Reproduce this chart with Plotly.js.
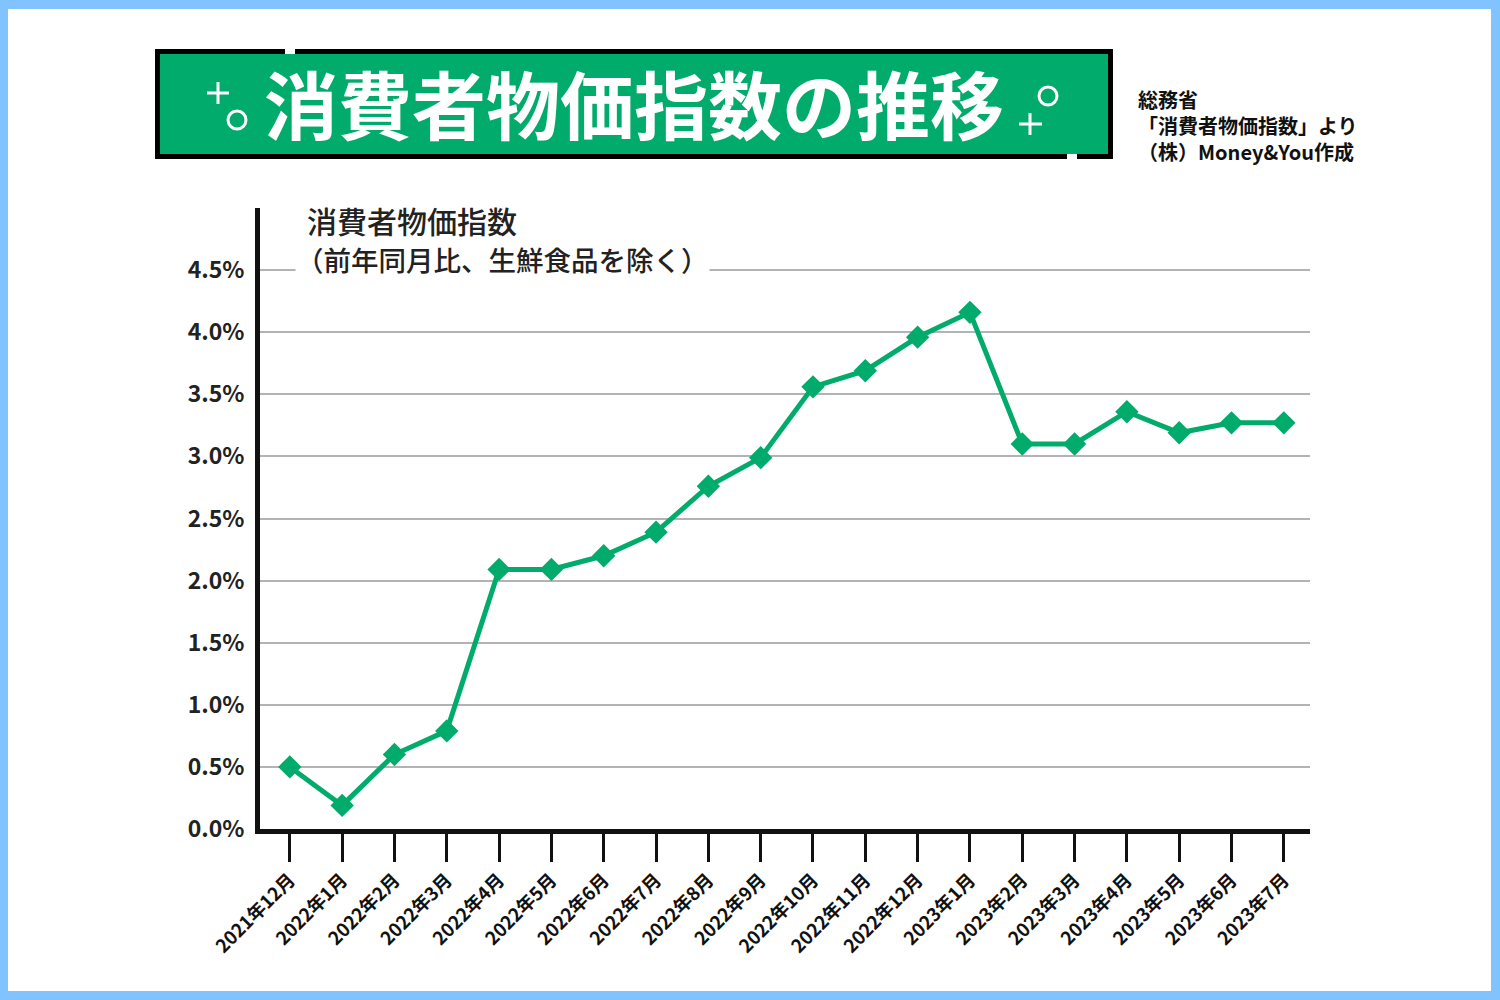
<!DOCTYPE html>
<html>
<head>
<meta charset="utf-8">
<script src="https://cdn.plot.ly/plotly-3.0.1.min.js"></script>
<style>
  html, body { margin: 0; padding: 0; background: #ffffff; }
  #chart { width: 1500px; height: 1000px; }
</style>
</head>
<body>
<div id="chart"></div>
<script>
// ---- data ----
const months = [
  "2021年12月", "2022年1月", "2022年2月", "2022年3月", "2022年4月",
  "2022年5月", "2022年6月", "2022年7月", "2022年8月", "2022年9月",
  "2022年10月", "2022年11月", "2022年12月", "2023年1月", "2023年2月",
  "2023年3月", "2023年4月", "2023年5月", "2023年6月", "2023年7月"
];
const cpiCore = [0.5, 0.19, 0.6, 0.79, 2.09, 2.09, 2.2, 2.39, 2.76, 2.99,
                 3.56, 3.69, 3.96, 4.16, 3.1, 3.1, 3.36, 3.19, 3.27, 3.27];
const yTickVals = [0, 0.5, 1.0, 1.5, 2.0, 2.5, 3.0, 3.5, 4.0, 4.5];
const yTickText = ["0.0%", "0.5%", "1.0%", "1.5%", "2.0%", "2.5%", "3.0%", "3.5%", "4.0%", "4.5%"];
const mainTitle = "消費者物価指数の推移";
const chartLabel1 = "消費者物価指数";
const chartLabel2 = "（前年同月比、生鮮食品を除く）";
const sourceLines = ["総務省", "「消費者物価指数」より", "（株）Money&You作成"];

// ---- layout helpers (pixel -> paper) ----
const W = 1500, H = 1000;
const M = { l: 260, r: 190, t: 208, b: 171 };
const PW = W - M.l - M.r, PH = H - M.t - M.b;
const px = x => (x - M.l) / PW;
const py = y => (H - M.b - y) / PH;

const GREEN = "#00ab6b";
const FONT = "'Noto Sans CJK JP', 'Noto Sans', sans-serif";

function rect(x0, y0, x1, y1, fill) {
  return { type: "rect", xref: "paper", yref: "paper",
    x0: px(x0), x1: px(x1), y0: py(y1), y1: py(y0),
    fillcolor: fill, line: { width: 0 }, layer: "above" };
}
function seg(x0, y0, x1, y1, color, w) {
  return { type: "line", xref: "paper", yref: "paper",
    x0: px(x0), x1: px(x1), y0: py(y0), y1: py(y1),
    line: { color: color, width: w }, layer: "above" };
}
function circ(cx, cy, r, color, w) {
  return { type: "circle", xref: "paper", yref: "paper",
    x0: px(cx - r), x1: px(cx + r), y0: py(cy + r), y1: py(cy - r),
    line: { color: color, width: w }, fillcolor: "rgba(0,0,0,0)", layer: "above" };
}

const BORDER = "#80c3ff";
const shapes = [
  // page border
  rect(0, 0, W, 9, BORDER), rect(0, H - 9, W, H, BORDER),
  rect(0, 0, 8, H, BORDER), rect(W - 9, 0, W, H, BORDER),
  // title box
  rect(155, 49, 1113, 159, "#000000"),
  rect(160, 54, 1108, 154, GREEN),
  rect(285, 44, 295, 54, "#ffffff"),
  rect(1067, 154, 1077, 163, "#ffffff"),
  // decorations
  seg(207, 93, 229, 93, "#ffffff", 3), seg(218, 82, 218, 104, "#ffffff", 3),
  circ(237, 120, 9, "#ffffff", 3),
  seg(1019, 124, 1042, 124, "#ffffff", 3), seg(1030, 113, 1030, 135, "#ffffff", 3),
  circ(1048, 96, 9, "#ffffff", 3)
];

const annotations = [
  { xref: "paper", yref: "paper", x: px(634), y: py(102), xanchor: "center", yanchor: "middle",
    text: mainTitle, showarrow: false,
    font: { family: FONT, size: 74, color: "#ffffff", weight: 700 } },
  { xref: "paper", yref: "paper", x: px(1136), y: py(83), xanchor: "left", yanchor: "top",
    text: sourceLines.join("<br>"), align: "left", showarrow: false,
    font: { family: FONT, size: 20, color: "#111111", weight: 700 } },
  { xref: "paper", yref: "paper", x: px(305), y: py(220), xanchor: "left", yanchor: "middle",
    text: chartLabel1, showarrow: false,
    font: { family: FONT, size: 30, color: "#222222", weight: 500 } },
  { xref: "paper", yref: "paper", x: px(295), y: py(259), xanchor: "left", yanchor: "middle",
    text: chartLabel2, showarrow: false, bgcolor: "#ffffff", borderpad: 0,
    font: { family: FONT, size: 27.5, color: "#222222", weight: 500 } }
];

const trace = {
  x: months, y: cpiCore, type: "scatter", mode: "lines+markers",
  line: { color: GREEN, width: 5 },
  marker: { symbol: "diamond", size: 18, color: GREEN },
  hoverinfo: "x+y"
};

const layout = {
  width: W, height: H,
  margin: M,
  paper_bgcolor: "#ffffff", plot_bgcolor: "#ffffff",
  showlegend: false,
  xaxis: {
    type: "category", range: [-0.57, 19.5],
    showgrid: false, zeroline: false,
    showline: true, linecolor: "#111111", linewidth: 5,
    ticks: "outside", ticklen: 28, tickwidth: 3, tickcolor: "#111111",
    tickangle: -45,
    tickfont: { family: FONT, size: 18.5, color: "#111111", weight: 700 }
  },
  yaxis: {
    range: [0, 5.0], tickvals: yTickVals, ticktext: yTickText,
    showgrid: true, gridcolor: "#b3b3b3", gridwidth: 2,
    zeroline: false,
    showline: true, linecolor: "#111111", linewidth: 5,
    ticks: "", ticklabelstandoff: 6,
    tickfont: { family: FONT, size: 23, color: "#222222", weight: 600 }
  },
  shapes: shapes,
  annotations: annotations
};

Plotly.newPlot("chart", [trace], layout, { displayModeBar: false, staticPlot: true });
</script>
</body>
</html>
